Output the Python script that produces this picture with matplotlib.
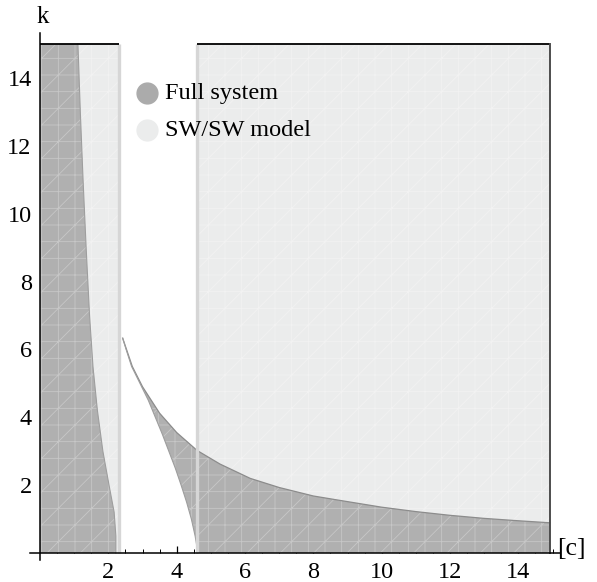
import matplotlib
matplotlib.use("Agg")
import matplotlib.pyplot as plt
from matplotlib.lines import Line2D
import numpy as np

plt.rcParams['font.family'] = ['Liberation Serif', 'DejaVu Serif']
plt.rcParams['hatch.linewidth'] = 0.6

# ---- data ----
c_max = 14.93
k_max = 15.0
# SW/SW model (light) strips: [c_start, c_end]
sw_strips = [(0.0, 2.30), (4.60, 14.93)]

# Full system, left region: right boundary c(k)
left_k = [15.0, 13.0, 11.0, 9.0, 7.0, 5.5, 4.2, 3.0, 2.0, 1.2, 0.5, 0.0]
left_c = [1.11, 1.18, 1.26, 1.35, 1.45, 1.55, 1.68, 1.84, 2.02, 2.17, 2.22, 2.22]

# Full system, right region: upper boundary k(c)
upper_c = [2.42, 2.70, 3.00, 3.50, 4.00, 4.60, 5.27, 6.15, 7.00, 8.00, 8.78,
           10.0, 11.0, 12.0, 13.0, 14.0, 14.93]
upper_k = [6.33, 5.50, 4.90, 4.12, 3.55, 3.02, 2.62, 2.20, 1.93, 1.68, 1.55,
           1.35, 1.22, 1.11, 1.02, 0.95, 0.89]
# lower/left boundary c(k) of the right region
lower_k = [6.33, 6.00, 5.50, 4.50, 3.50, 2.50, 2.00, 1.50, 1.00, 0.50, 0.20, 0.0]
lower_c = [2.42, 2.52, 2.68, 3.17, 3.58, 3.96, 4.13, 4.29, 4.43, 4.54, 4.59, 4.60]

x_ticks = [2, 4, 6, 8, 10, 12, 14]
y_ticks = [2, 4, 6, 8, 10, 12, 14]
legend_labels = ["Full system", "SW/SW model"]

# ---- style ----
dark = (0.69, 0.69, 0.69)
light = (0.922, 0.925, 0.925)
dark_mesh = (0.78, 0.78, 0.78)
light_mesh = (0.95, 0.95, 0.95)

W, H = 597, 582
fig = plt.figure(figsize=(W / 100, H / 100), dpi=100)
ax_l, ax_r, ax_b, ax_t = 30, 560, 560, 33
ax = fig.add_axes([ax_l / W, 1 - ax_b / H, (ax_r - ax_l) / W, (ax_b - ax_t) / H])
xs = 34.17
ys = 33.93
x0px, y0px = 40.0, 553.0
ax.set_xlim((ax_l - x0px) / xs, (ax_r - x0px) / xs)
ax.set_ylim((y0px - ax_b) / ys, (y0px - ax_t) / ys)

# SW/SW light strips
for (a, b) in sw_strips:
    ax.fill_between([a, b], 0, k_max, facecolor=light, edgecolor=light_mesh,
                    hatch='+/', linewidth=0, zorder=1)
    for xe in (a, b):
        if 0 < xe < c_max:
            ax.plot([xe, xe], [0, k_max], color=(0.84, 0.84, 0.84), lw=2.4,
                    zorder=3, solid_capstyle='butt')

# Full system left region
ax.fill_betweenx(left_k, 0, left_c, facecolor=dark, edgecolor=dark_mesh,
                 hatch='+/', linewidth=0, zorder=2)
ax.plot(left_c, left_k, color=(0.62, 0.62, 0.62), lw=0.8, zorder=2)

# Full system right region polygon
poly_c = list(lower_c) + [c_max] + list(upper_c[::-1])
poly_k = list(lower_k) + [0.0] + list(upper_k[::-1])
ax.fill(poly_c, poly_k, facecolor=dark, edgecolor=dark_mesh, hatch='+/',
        linewidth=0, zorder=2)
ax.plot(upper_c, upper_k, color=(0.55, 0.55, 0.55), lw=0.9, zorder=2)
ax.plot(lower_c, lower_k, color=(0.62, 0.62, 0.62), lw=0.8, zorder=2)

# region frame lines (top and right)
for (a, b) in sw_strips:
    ax.plot([a, min(b, c_max)], [k_max, k_max], color='black', lw=1.3, zorder=4,
            solid_capstyle='butt')
ax.plot([c_max, c_max], [0, k_max], color=(0.3, 0.3, 0.3), lw=1.4, zorder=4)

# axes styling (Mathematica-like axes through origin)
for s in ('top', 'right'):
    ax.spines[s].set_visible(False)
ax.spines['left'].set_position(('data', 0))
ax.spines['bottom'].set_position(('data', 0))
for s in ('left', 'bottom'):
    ax.spines[s].set_linewidth(1.1)
    ax.spines[s].set_zorder(5)
ax.set_xticks(x_ticks)
ax.set_yticks(y_ticks)
ax.set_xticks(np.arange(0.5, 15.01, 0.5), minor=True)
ax.set_yticks(np.arange(0.5, 15.01, 0.5), minor=True)
ax.tick_params(which='major', direction='in', length=5, width=0.9, labelsize=17.5,
               zorder=6)
ax.tick_params(which='minor', direction='in', length=3, width=0.7)
ax.tick_params(axis='x', pad=6.5)
ax.tick_params(axis='y', pad=6)
ax.set_facecolor('none')

# axis labels
fig.text(43 / W, 1 - 17 / H, "k", fontsize=18, ha='center', va='center')
fig.text(571 / W, 1 - 549 / H, "[c]", fontsize=18.5, ha='center', va='center')

# legend
leg_colors = [(0.67, 0.67, 0.67), light]
for i, (lab, col) in enumerate(zip(legend_labels, leg_colors)):
    ypx = 93 + 37 * i
    fig.add_artist(Line2D([147 / W], [1 - ypx / H], marker='o', markersize=15,
                          color=col, linestyle='none', transform=fig.transFigure))
    fig.text(165 / W, 1 - ypx / H, lab, fontsize=17.5, ha='left', va='center')

fig.savefig("out.png", dpi=100)
